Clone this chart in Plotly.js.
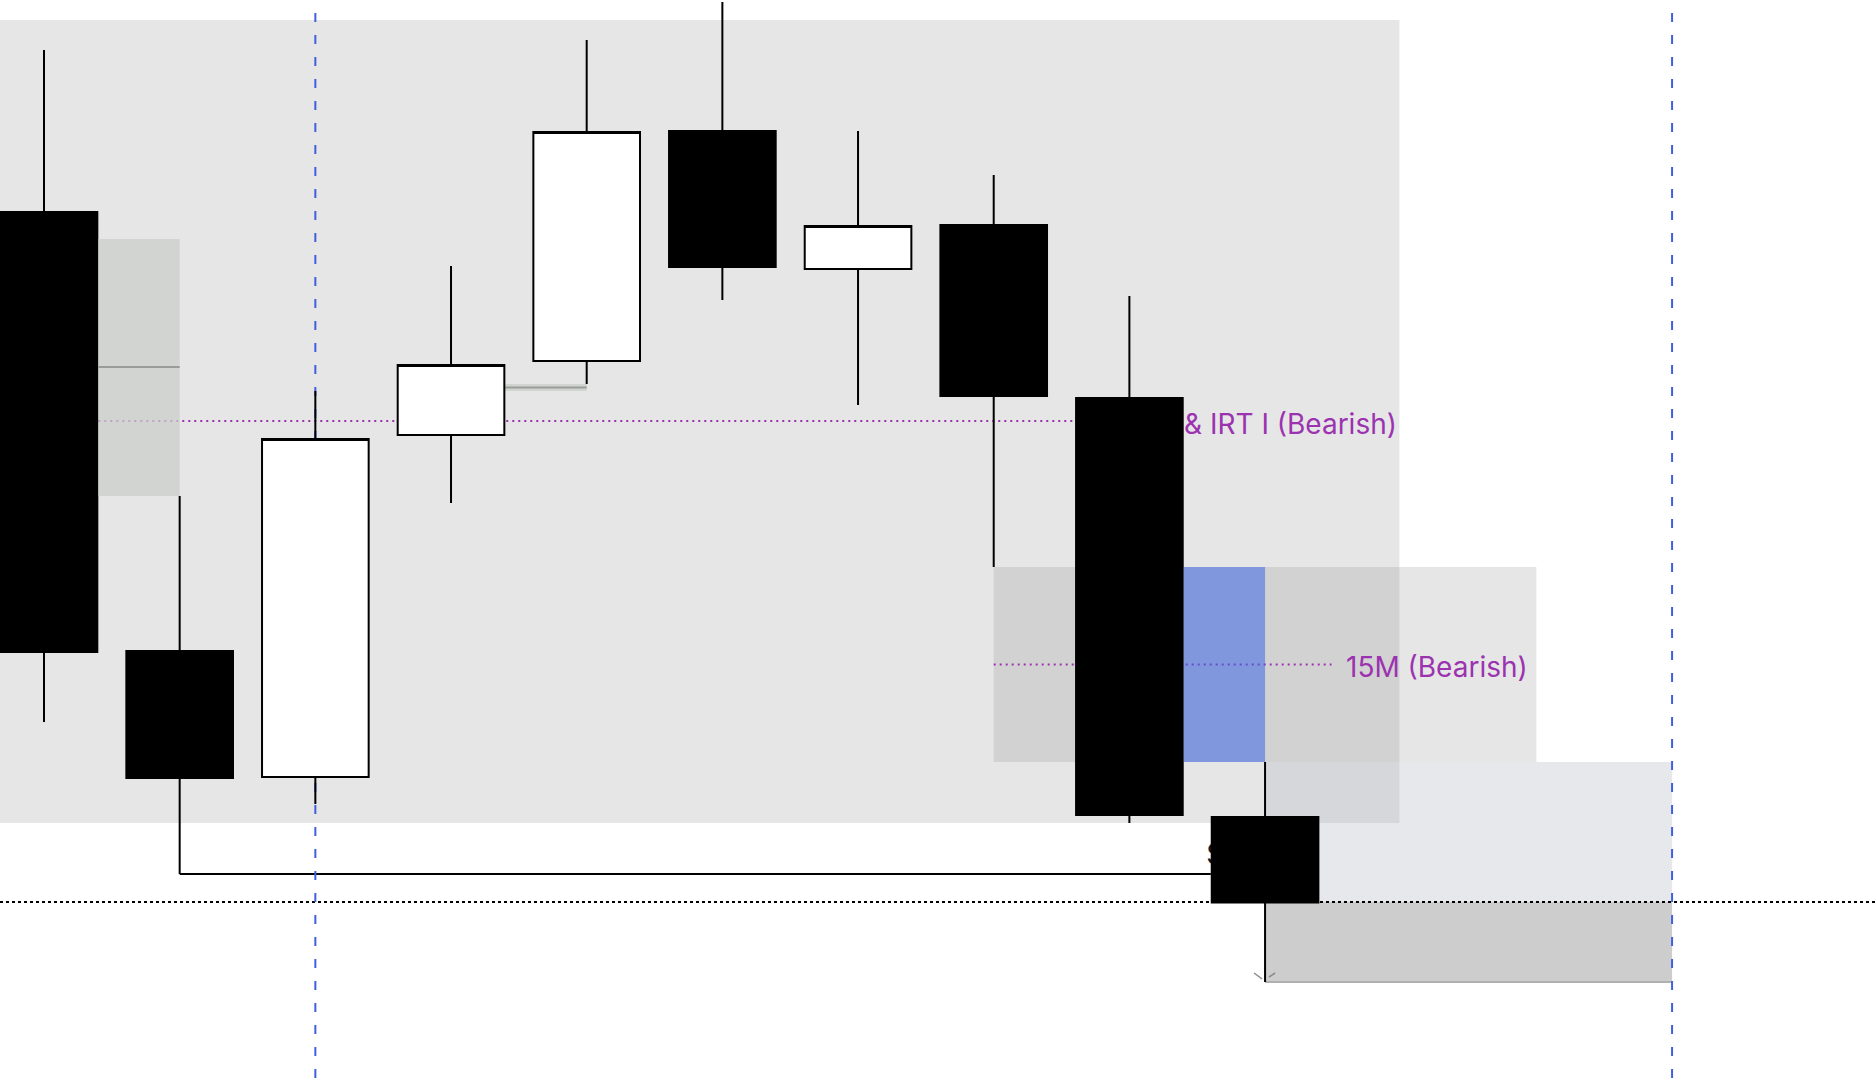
<!DOCTYPE html>
<html><head><meta charset="utf-8">
<script src="https://cdn.plot.ly/plotly-3.0.1.min.js"></script>
<style>html,body{margin:0;padding:0;background:#fff;overflow:hidden}#chart{width:1876px;height:1086px}</style>
</head><body><div id="chart"></div>
<script>
// ---- candle data (bar index, prices) ----
const bars   = [0, 1, 2, 3, 4, 5, 6, 7, 8, 9];
const opens  = [18573.5, 18518.625, 18502.875, 18545.625, 18554.875, 18583.625, 18566.375, 18571.875, 18550.25, 18497.875];
const highs  = [18593.75, 18538.0, 18551.125, 18566.75, 18595.0, 18599.75, 18583.625, 18578.125, 18563.0, 18504.75];
const lows   = [18509.75, 18490.75, 18499.5, 18537.125, 18552.0, 18562.5, 18549.375, 18529.125, 18497.125, 18477.25];
const closes = [18518.5, 18502.75, 18545.125, 18554.375, 18583.5, 18566.625, 18571.75, 18550.5, 18498.125, 18487.19];

// ---- zones / levels (bar index span, price span) ----
const sessionZone = {x: [-0.5, 9.99], y: [18497.125, 18597.5]};
const h1Zone      = {x: [0.4, 1.0],   y: [18538.0, 18570.125], mid: 18554.125};
const smallZone   = {x: [3.4, 4.0],   y: [18551.125, 18552.0], mid: 18551.56};
const fvg15Zone   = {x: [7, 11],      y: [18504.75, 18529.125], mid: 18516.94};
const fvgCandle   = {x: [8.4, 9.0],   y: [18504.75, 18529.125]};
const targetZone  = {x: [9, 12],      y: [18487.25, 18504.75]};
const stopZone    = {x: [9, 12],      y: [18477.25, 18487.25]};
const irtLevel    = {x: [0.4, 7.6],   y: 18547.375};
const fvg15Line   = {x: [7, 9.49]};
const sweepLine   = {x: [1, 8.6],     y: lows[1]};
const entryLevel  = 18487.25;
const vLines      = [2, 12];
const vLineSpan   = [18465.25, 18598.5];

// ---- labels ----
const labelIRT  = {text: '& IRT I (Bearish)', x: 8.385, y: 18547.0};
const label15M  = {text: '15M (Bearish)', x: 9.58, y: 18516.6};
const labelSSL  = {text: 'SSL', x: 8.545, y: 18493.4};

const xRange = [-0.3243, 13.503];
const yRange = [18464.25, 18600];

const trace = {
  type: 'candlestick',
  x: bars, open: opens, high: highs, low: lows, close: closes,
  increasing: {line: {color: '#000000', width: 2}, fillcolor: '#ffffff'},
  decreasing: {line: {color: '#000000', width: 2}, fillcolor: '#000000'},
  whiskerwidth: 0,
  hoverinfo: 'skip',
  showlegend: false
};

function rect(z, fill, layer) {
  return {type: 'rect', xref: 'x', yref: 'y', x0: z.x[0], x1: z.x[1], y0: z.y[0], y1: z.y[1],
          fillcolor: fill, line: {width: 0}, layer: layer || 'below'};
}
function seg(x0, x1, y0, y1, color, width, dash, layer) {
  return {type: 'line', xref: 'x', yref: 'y', x0: x0, x1: x1, y0: y0, y1: y1,
          line: {color: color, width: width, dash: dash || 'solid'}, layer: layer || 'below'};
}

const purple = '#9b33b0';
const shapes = [
  rect(sessionZone, 'rgba(130,130,130,0.2)'),
  rect(fvg15Zone, 'rgba(130,130,130,0.2)'),
  rect(targetZone, 'rgba(180,183,196,0.32)'),
  rect(stopZone, '#cdcdcd'),
  seg(stopZone.x[0], stopZone.x[1], stopZone.y[0], stopZone.y[0], '#b0b0b0', 2),
  seg(irtLevel.x[0], irtLevel.x[1], irtLevel.y, irtLevel.y, purple, 2, '2px,4px'),
  seg(fvg15Line.x[0], fvg15Line.x[1], fvg15Zone.mid, fvg15Zone.mid, purple, 2, '2px,4px'),
  seg(sweepLine.x[0], sweepLine.x[1], sweepLine.y, sweepLine.y, '#000000', 2),
  seg(xRange[0], xRange[1], entryLevel, entryLevel, '#000000', 2, '3px,3px'),
  rect(smallZone, '#d0d4d0'),
  seg(smallZone.x[0], smallZone.x[1], smallZone.mid, smallZone.mid, '#999c99', 2),
  seg(8.919, 8.978, 18478.375, 18477.625, '#8a8a8a', 1.5),
  seg(9.029, 9.074, 18477.875, 18478.375, '#8a8a8a', 1.5),
  {type: 'rect', xref: 'x', yref: 'y', x0: labelSSL.x, x1: labelSSL.x + 1, y0: labelSSL.y - 1.5, y1: labelSSL.y + 1.5,
   fillcolor: 'rgba(0,0,0,0)', line: {width: 0}, layer: 'below',
   label: {text: labelSSL.text, textposition: 'middle left', padding: 0,
           font: {size: 28, color: '#131722', family: 'Inter, Noto Sans, sans-serif'}}},
  rect(h1Zone, 'rgba(201,206,201,0.75)', 'above'),
  seg(h1Zone.x[0], h1Zone.x[1], h1Zone.mid, h1Zone.mid, '#999c99', 2, 'solid', 'above'),
  rect(fvgCandle, 'rgba(60,100,230,0.55)', 'above')
];
vLines.forEach(function (vx) {
  shapes.push(seg(vx, vx, vLineSpan[0], vLineSpan[1], '#3f5fe0', 2, '9px,13px', 'below'));
});

const annotations = [labelIRT, label15M].map(function (l) {
  return {text: l.text, x: l.x, y: l.y, xref: 'x', yref: 'y', xanchor: 'left', yanchor: 'middle',
          showarrow: false, font: {size: 28, color: purple, family: 'Inter, Noto Sans, sans-serif'}};
});

const layout = {
  width: 1876, height: 1086, autosize: false,
  margin: {l: 0, r: 0, t: 0, b: 0, pad: 0},
  paper_bgcolor: '#ffffff', plot_bgcolor: '#ffffff',
  showlegend: false,
  boxgap: 0.214, boxgroupgap: 0,
  xaxis: {range: xRange, visible: false, fixedrange: true, rangeslider: {visible: false}},
  yaxis: {range: yRange, visible: false, fixedrange: true},
  shapes: shapes,
  annotations: annotations,
  font: {family: 'Inter, Noto Sans, sans-serif'}
};

Plotly.newPlot('chart', [trace], layout, {displayModeBar: false, staticPlot: true});
</script>
</body></html>
